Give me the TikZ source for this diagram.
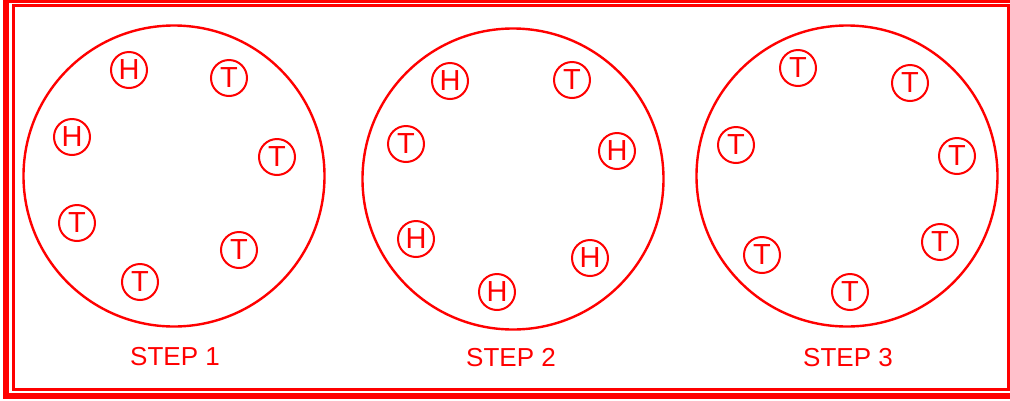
\documentclass[tikz,border=0pt]{standalone}
\usepackage{fontspec}
\setmainfont{Liberation Sans}
\begin{document}
\begin{tikzpicture}[x=1pt,y=-1pt,
  bigcirc/.style={draw=red,line width=2.4pt,circle,minimum size=301pt,inner sep=0pt},
  bolt/.style={draw=red,line width=2pt,circle,minimum size=36pt,inner sep=0pt,text=red,font=\fontsize{29}{29}\selectfont},
  steplabel/.style={text=red,font=\fontsize{26}{26}\selectfont,inner sep=0pt},
  outerframe/.style={draw=red,line width=6pt},
  innerframe/.style={draw=red,line width=3pt}]
\useasboundingbox (0,0) rectangle (1010,400);
\draw[outerframe] (6,0) rectangle (1016,396);
\draw[innerframe] (13.5,5.5) rectangle (1008,389);
% step 1
\node[bigcirc] (c1) at (174,176) {};
\node[bolt] (s1a) at (129,70) {H};
\node[bolt] (s1b) at (229,78) {T};
\node[bolt] (s1c) at (72,137) {H};
\node[bolt] (s1d) at (277,157) {T};
\node[bolt] (s1e) at (77,223) {T};
\node[bolt] (s1f) at (239,250) {T};
\node[bolt] (s1g) at (140,282) {T};
\node[steplabel] (l1) at (175,357) {STEP 1};
% step 2
\node[bigcirc] (c2) at (513,179) {};
\node[bolt] (s2a) at (450,81) {H};
\node[bolt] (s2b) at (572,80) {T};
\node[bolt] (s2c) at (406,144) {T};
\node[bolt] (s2d) at (617,151) {H};
\node[bolt] (s2e) at (416,239) {H};
\node[bolt] (s2f) at (590,258) {H};
\node[bolt] (s2g) at (497,292) {H};
\node[steplabel] (l2) at (511,358) {STEP 2};
% step 3
\node[bigcirc] (c3) at (847,176) {};
\node[bolt] (s3a) at (798,68) {T};
\node[bolt] (s3b) at (910,83) {T};
\node[bolt] (s3c) at (736,145) {T};
\node[bolt] (s3d) at (957,156) {T};
\node[bolt] (s3e) at (762,255) {T};
\node[bolt] (s3f) at (940,242) {T};
\node[bolt] (s3g) at (850,292) {T};
\node[steplabel] (l3) at (848,358) {STEP 3};
\end{tikzpicture}
\end{document}
